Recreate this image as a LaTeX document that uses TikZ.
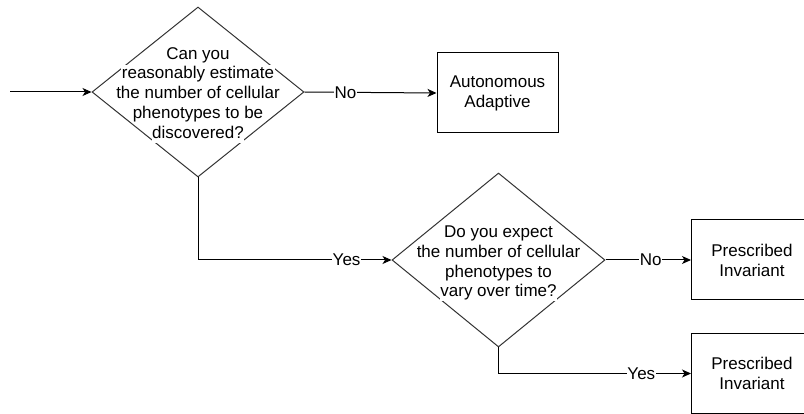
\documentclass[tikz,border=0pt]{standalone}
\usepackage{fontspec}
\setmainfont{Liberation Sans}
\usetikzlibrary{shapes.geometric,arrows.meta}
\begin{document}
\begin{tikzpicture}[x=1pt,y=-1pt,
  every node/.style={font=\fontsize{17}{20}\selectfont, text=black},
  decision/.style={draw=black!80, line width=1pt, diamond, inner sep=0pt,
    minimum width=212pt, minimum height=170pt},
  qline/.style={fill=white, inner xsep=0.5pt, inner ysep=0pt, text height=14pt, text depth=4.5pt},
  outbox/.style={draw=black, line width=1pt, rectangle, minimum width=121pt,
    minimum height=80pt, align=center, inner sep=0pt},
  arr/.style={-{Stealth[length=9pt,width=8pt,inset=2.5pt]}, line width=1pt, draw=black},
  lbl/.style={fill=white, inner sep=0.5pt}
]
\useasboundingbox (0,0) rectangle (804,414);
\clip (0,0) rectangle (804,414);
\coordinate (start) at (10,92);
\node[decision] (d1) at (198,92) {};
\foreach \txt [count=\i] in {Can you, reasonably estimate, the number of cellular, phenotypes to be, discovered?}
  \node[qline] (t1-\i) at (198, {94 + (\i-3)*19.75}) {\txt};
\node[outbox] (b1) at (497.5,93) {Autonomous\\Adaptive};
\node[decision, minimum width=213pt, minimum height=174pt] (d2) at (498.5,260) {};
\foreach \txt [count=\i] in {Do you expect, the number of cellular, phenotypes to, vary over time?}
  \node[qline] (t2-\i) at (498.5, {262.5 + (\i-2.5)*19.75}) {\txt};
\node[outbox] (b2) at (752,260) {Prescribed\\Invariant};
\node[outbox, minimum height=79pt] (b3) at (752,373.5) {Prescribed\\Invariant};

\draw[arr] (start) -- (d1.west);
\draw[arr] (d1.east) -- node[lbl, pos=0.31] {No} (b1.west);
\draw[arr] (d1.south) |- node[lbl, pos=0.884] {Yes} (d2.west);
\draw[arr] (d2.east) -- node[lbl, pos=0.53] {No} (b2.west);
\draw[arr] (d2.south) |- node[lbl, pos=0.871] {Yes} (b3.west);
\end{tikzpicture}
\end{document}
